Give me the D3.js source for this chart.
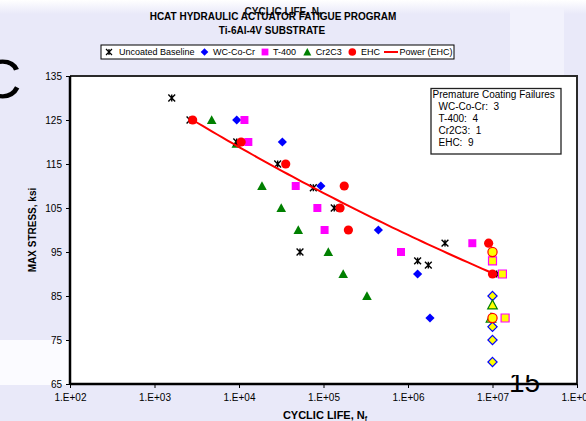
<!DOCTYPE html>
<html><head><meta charset="utf-8">
<script src="https://cdn.jsdelivr.net/npm/d3@7"></script>
<style>
html,body{margin:0;padding:0;background:#e9e9f9;}
svg{display:block;font-family:"Liberation Sans",Arial,sans-serif;}
</style></head>
<body><svg id="c" width="586" height="421"></svg>
<script>
// ---------- data ----------
const xTickValues = [1e2, 1e3, 1e4, 1e5, 1e6, 1e7, 1e8];
const xTickLabels = ["1.E+02","1.E+03","1.E+04","1.E+05","1.E+06","1.E+07","1.E+08"];
const yTickValues = [65, 75, 85, 95, 105, 115, 125, 135];

const uncoatedN = [1600, 2630, 9400, 28700, 75800, 134000, 52700, 2740000, 1300000, 1740000, 11200000];
const uncoatedS = [130, 125, 120, 115, 109.6, 105, 95, 97, 93, 92, 90];

const wcN = [9400, 32600, 93000, 446000, 1300000, 1820000];
const wcS = [125, 120, 110, 100, 90, 80];
const wcRunN = [1e7, 1e7, 1e7, 1e7];
const wcRunS = [85, 78, 75, 70];

const t400N = [11600, 12900, 46900, 84600, 103000, 826000, 5770000];
const t400S = [125, 120, 110, 105, 100, 95, 97];
const t400RunN = [1e7, 1.31e7, 1.41e7];
const t400RunS = [93, 90, 80];

const cr2c3N = [4750, 9300, 18700, 31600, 50300, 114000, 171000, 327000];
const cr2c3S = [125, 119.6, 110, 105, 100, 95, 90, 85];
const cr2c3RunN = [9.6e6, 1e7];
const cr2c3RunS = [80, 83];

const ehcN = [2830, 10600, 35700, 176000, 157000, 197000, 9000000, 10000000];
const ehcS = [125, 120, 115, 110, 105, 100, 97, 90];
const ehcRunN = [1e7, 1e7];
const ehcRunS = [95, 80];

// Power (EHC) trendline S = a * N^b, as shown on the chart
const trendA = 171.7, trendB = -0.03994;
const trendRange = [2830, 1e7];

const legendLabels = ["Uncoated Baseline","WC-Co-Cr","T-400","Cr2C3","EHC","Power (EHC)"];
const noteLines = ["Premature Coating Failures","WC-Co-Cr:  3","T-400:  4","Cr2C3:  1","EHC:  9"];

// ---------- drawing ----------
const svg = d3.select("#c");
const W = 586, H = 421;
const L = 70, R = 577, T = 76, B = 384;

// slide background
const defs = svg.append("defs");
const g1 = defs.append("linearGradient").attr("id","topfade").attr("x1",0).attr("x2",0).attr("y1",0).attr("y2",1);
g1.append("stop").attr("offset","0").attr("stop-color","#ffffff");
g1.append("stop").attr("offset","1").attr("stop-color","#e9e9f9");
defs.append("clipPath").attr("id","pgclip").append("rect").attr("x",480).attr("y",375).attr("width",106).attr("height",46);
svg.append("rect").attr("width",W).attr("height",H).attr("fill","#e9e9f9");
svg.append("rect").attr("width",W).attr("height",14).attr("fill","url(#topfade)");
svg.append("rect").attr("x",510).attr("y",8).attr("width",54).attr("height",70).attr("fill","#f2f2fc");
svg.append("rect").attr("x",0).attr("y",340).attr("width",L).attr("height",45).attr("fill","#fbfbff");

// slide remnants
svg.append("text").attr("x",-19).attr("y",98).attr("font-size",56).attr("fill","#000").text("C");

const x = d3.scaleLog().domain([1e2,1e8]).range([L,R]);
const y = d3.scaleLinear().domain([65,135]).range([B,T]);

// plot area
svg.append("rect").attr("x",L).attr("y",T).attr("width",R-L).attr("height",B-T).attr("fill","#ffffff");

svg.append("text").attr("x",509).attr("y",392).attr("font-size",28).attr("fill","#000")
  .attr("clip-path","url(#pgclip)").text("15");

// frame top/right
svg.append("path").attr("d",`M${L},${T}H${R}V${B}`).attr("fill","none").attr("stroke","#2a2a2a").attr("stroke-width",2);

// axes
const xAxis = d3.axisBottom(x).tickValues(xTickValues).tickFormat((d,i)=>xTickLabels[i]).tickSize(4).tickPadding(6);
const gx = svg.append("g").attr("transform",`translate(0,${B})`).call(xAxis);
const yAxis = d3.axisLeft(y).tickValues(yTickValues).tickSize(4).tickPadding(4);
const gy = svg.append("g").attr("transform",`translate(${L},0)`).call(yAxis);
[gx,gy].forEach(g=>{
  g.select(".domain").attr("stroke","#000").attr("stroke-width",2.5);
  g.selectAll(".tick line").attr("stroke","#000").attr("stroke-width",1);
  g.selectAll(".tick text").attr("font-size",10).attr("font-family","Liberation Sans, Arial, sans-serif").attr("fill","#000");
});
gy.select(".domain").attr("d",`M0,${T}V${B}`);
gx.select(".domain").attr("d",`M${L},0H${R}`);

// axis titles
svg.append("text").attr("transform",`translate(36,230) rotate(-90)`).attr("text-anchor","middle")
  .attr("font-size",10).attr("font-weight","bold").text("MAX STRESS, ksi");
const xt = svg.append("text").attr("x",325).attr("y",419).attr("text-anchor","middle").attr("font-size",11).attr("font-weight","bold");
xt.append("tspan").text("CYCLIC LIFE, N");
xt.append("tspan").attr("font-size",7).attr("dy",2).text("f");

// titles
const tt0 = svg.append("text").attr("x",283).attr("y",15).attr("text-anchor","middle").attr("font-size",10).attr("font-weight","bold").attr("fill","#111");
tt0.append("tspan").text("CYCLIC LIFE, N");
tt0.append("tspan").attr("font-size",7).attr("dy",2).text("f");
svg.append("text").attr("x",273).attr("y",19.5).attr("text-anchor","middle").attr("font-size",10).attr("font-weight","bold").text("HCAT HYDRAULIC ACTUATOR FATIGUE PROGRAM");
svg.append("text").attr("x",272).attr("y",34).attr("text-anchor","middle").attr("font-size",10).attr("font-weight","bold").text("Ti-6Al-4V SUBSTRATE");

// marker shapes
const sym = {
  star: s => `M${-s},${-s}L${s},${s}M${-s},${s}L${s},${-s}M0,${-s}L0,${s}`,
  diamond: s => `M0,${-s}L${s},0L0,${s}L${-s},0Z`,
  square: s => `M${-s},${-s}H${s}V${s}H${-s}Z`,
  triangle: s => `M0,${-s}L${s},${s*0.85}L${-s},${s*0.85}Z`,
};
function drawSeries(Ns, Ss, kind, fill, stroke, sw){
  const pts = Ns.map((n,i)=>({n, s:Ss[i]}));
  const g = svg.append("g");
  if(kind==="circle"){
    g.selectAll("circle").data(pts).join("circle").attr("cx",d=>x(d.n)).attr("cy",d=>y(d.s)).attr("r",4.6)
      .attr("fill",fill).attr("stroke",stroke).attr("stroke-width",sw);
  } else {
    const size = {star:3.4, diamond:4.6, square:4, triangle:4.8}[kind];
    g.selectAll("path").data(pts).join("path").attr("transform",d=>`translate(${x(d.n)},${y(d.s)})`)
      .attr("d",sym[kind](size)).attr("fill",fill).attr("stroke",stroke).attr("stroke-width",sw);
  }
}

drawSeries(cr2c3N, cr2c3S, "triangle", "#008000", "none", 0);
drawSeries(uncoatedN, uncoatedS, "star", "none", "#000", 1.4);
drawSeries(wcN, wcS, "diamond", "#0000ff", "none", 0);
drawSeries(t400N, t400S, "square", "#ff00ff", "none", 0);
drawSeries(ehcN, ehcS, "circle", "#ff0000", "none", 0);

// trendline
const trendPts = d3.range(0, 61).map(i => {
  const ln = Math.log10(trendRange[0]) + (Math.log10(trendRange[1]) - Math.log10(trendRange[0])) * i / 60;
  const n = Math.pow(10, ln);
  return [n, trendA * Math.pow(n, trendB)];
});
svg.append("path").attr("d", d3.line().x(d=>x(d[0])).y(d=>y(d[1]))(trendPts))
  .attr("fill","none").attr("stroke","#ff0000").attr("stroke-width",2);

// run-outs
drawSeries(wcRunN, wcRunS, "diamond", "#ffff00", "#0000ff", 1.2);
drawSeries(cr2c3RunN, cr2c3RunS, "triangle", "#ffff00", "#008000", 1.2);
drawSeries(t400RunN, t400RunS, "square", "#ffff00", "#ff00ff", 1.2);
drawSeries(ehcRunN, ehcRunS, "circle", "#ffff00", "#ff0000", 1.2);

// legend
const lg = svg.append("g");
lg.append("rect").attr("x",101).attr("y",45).attr("width",353).attr("height",14).attr("fill","#fff").attr("stroke","#000").attr("stroke-width",1);
const legItems = [
  {kind:"star", fill:"none", stroke:"#000", cx:109, tx:119},
  {kind:"diamond", fill:"#0000ff", stroke:"none", cx:204.5, tx:213},
  {kind:"square", fill:"#ff00ff", stroke:"none", cx:265, tx:273},
  {kind:"triangle", fill:"#008000", stroke:"none", cx:307.3, tx:315.7},
  {kind:"circle", fill:"#ff0000", stroke:"none", cx:352.3, tx:361},
  {kind:"line", fill:"none", stroke:"#ff0000", cx:391, tx:399.5},
];
legItems.forEach((it,i)=>{
  const cy = 52;
  if(it.kind==="circle") lg.append("circle").attr("cx",it.cx).attr("cy",cy).attr("r",3.8).attr("fill",it.fill);
  else if(it.kind==="line") lg.append("line").attr("x1",384).attr("x2",398).attr("y1",cy).attr("y2",cy).attr("stroke",it.stroke).attr("stroke-width",2);
  else {
    const size = {star:3, diamond:3.8, square:3.4, triangle:4}[it.kind];
    lg.append("path").attr("transform",`translate(${it.cx},${cy})`).attr("d",sym[it.kind](size))
      .attr("fill",it.fill).attr("stroke",it.stroke).attr("stroke-width",it.kind==="star"?1.2:0);
  }
  lg.append("text").attr("x",it.tx).attr("y",55.3).attr("font-size",9).attr("fill","#000").text(legendLabels[i]);
});

// note box
const ng = svg.append("g");
ng.append("rect").attr("x",431).attr("y",88.5).attr("width",130).attr("height",65.5).attr("fill","#fff").attr("stroke","#222").attr("stroke-width",1.3);
noteLines.forEach((t,i)=>{
  ng.append("text").attr("x", i===0 ? 432.5 : 438.5).attr("y", 97.8 + i*12.1).attr("font-size",10)
    .attr("fill","#000").style("white-space","pre").text(t);
});
</script>
</body></html>
